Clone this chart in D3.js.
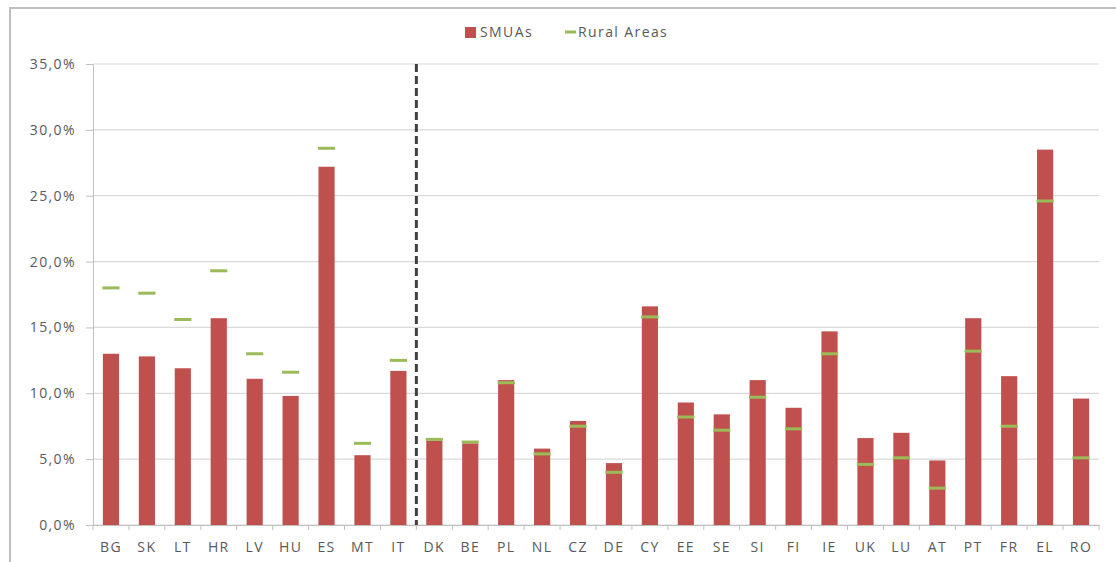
<!DOCTYPE html>
<html>
<head>
<meta charset="utf-8">
<script src="https://cdn.jsdelivr.net/npm/d3@7"></script>
<style>
  body { margin: 0; background: #fff; }
  text { font-family: "Open Sans", "Liberation Sans", sans-serif; fill: #595959; letter-spacing: 1.4px; }
</style>
</head>
<body>
<div id="chart"></div>
<script>
const countries = ["BG", "SK", "LT", "HR", "LV", "HU", "ES", "MT", "IT",
    "DK", "BE", "PL", "NL", "CZ", "DE", "CY", "EE", "SE", "SI", "FI", "IE", "UK", "LU", "AT", "PT", "FR", "EL", "RO"];
const smuas = [13.0, 12.8, 11.9, 15.7, 11.1, 9.8, 27.2, 5.3, 11.7,
    6.4, 6.2, 11.0, 5.8, 7.9, 4.7, 16.6, 9.3, 8.4, 11.0, 8.9, 14.7, 6.6, 7.0, 4.9, 15.7, 11.3, 28.5, 9.6];
const rural = [18.0, 17.6, 15.6, 19.3, 13.0, 11.6, 28.6, 6.2, 12.5,
    6.5, 6.3, 10.8, 5.4, 7.5, 4.0, 15.8, 8.2, 7.2, 9.7, 7.3, 13.0, 4.6, 5.1, 2.8, 13.2, 7.5, 24.6, 5.1];
const yTicks = [0, 5, 10, 15, 20, 25, 30, 35];
const splitAfter = "IT";

const width = 1116, height = 562;
const margin = { top: 64, right: 17, bottom: 37, left: 93 };

const svg = d3.select("#chart")
    .append("svg")
    .attr("width", width)
    .attr("height", height);

// outer frame
svg.append("path")
    .attr("d", `M10,${height} L10,8 L${width},8`)
    .attr("fill", "none")
    .attr("stroke", "#bfbfbf")
    .attr("stroke-width", 2);

const x = d3.scaleBand()
    .domain(countries)
    .range([margin.left, width - margin.right])
    .paddingInner(0.55)
    .paddingOuter(0.275);

const y = d3.scaleLinear()
    .domain([0, 35])
    .range([height - margin.bottom, margin.top]);

const fmt = v => d3.format(".1f")(v).replace(".", ",") + "%";

// gridlines
svg.append("g")
    .selectAll("line")
    .data(yTicks)
    .enter()
    .append("line")
    .attr("x1", margin.left)
    .attr("x2", width - margin.right)
    .attr("y1", d => y(d))
    .attr("y2", d => y(d))
    .attr("stroke", "#d9d9d9")
    .attr("stroke-width", 1.2);

// y axis
const yAxis = svg.append("g")
    .attr("transform", `translate(${margin.left},0)`)
    .call(d3.axisLeft(y).tickValues(yTicks).tickFormat(fmt).tickSize(7).tickPadding(10));
yAxis.selectAll("line").attr("stroke", "#bfbfbf");
yAxis.select(".domain").attr("stroke", "#bfbfbf");
yAxis.selectAll("text").style("font-size", "14px").attr("fill", "#595959");

// x axis with tick marks at band edges
const xAxis = svg.append("g")
    .attr("transform", `translate(0,${y(0)})`)
    .call(d3.axisBottom(x).tickSize(0).tickPadding(17));
xAxis.select(".domain").attr("stroke", "#bfbfbf");
xAxis.selectAll("text").style("font-size", "14px").attr("fill", "#595959");

const step = x.step();
const gap = (step - x.bandwidth()) / 2;
const edges = countries.map(c => x(c) - gap)
    .concat([x(countries[countries.length - 1]) + x.bandwidth() + gap]);
svg.append("g")
    .selectAll("line")
    .data(edges)
    .enter()
    .append("line")
    .attr("x1", d => d)
    .attr("x2", d => d)
    .attr("y1", y(0))
    .attr("y2", y(0) + 5)
    .attr("stroke", "#bfbfbf");

// bars
svg.append("g")
    .selectAll("rect")
    .data(countries)
    .enter()
    .append("rect")
    .attr("x", d => x(d))
    .attr("y", (d, i) => y(smuas[i]))
    .attr("width", x.bandwidth())
    .attr("height", (d, i) => y(0) - y(smuas[i]))
    .attr("fill", "#c0504d");

// rural markers
svg.append("g")
    .selectAll("line")
    .data(countries)
    .enter()
    .append("line")
    .attr("x1", d => x(d) - 0.5)
    .attr("x2", d => x(d) + x.bandwidth() + 0.5)
    .attr("y1", (d, i) => y(rural[i]))
    .attr("y2", (d, i) => y(rural[i]))
    .attr("stroke", "#9bbb59")
    .attr("stroke-width", 3);

// dashed separator
const sx = x(splitAfter) + x.bandwidth() + gap;
svg.append("line")
    .attr("x1", sx)
    .attr("x2", sx)
    .attr("y1", y(35))
    .attr("y2", y(0))
    .attr("stroke", "#404040")
    .attr("stroke-width", 3)
    .attr("stroke-dasharray", "8,4");

// legend
const legend = svg.append("g").attr("transform", "translate(465,32)");
legend.append("rect")
    .attr("x", 0).attr("y", -5)
    .attr("width", 11).attr("height", 11)
    .attr("fill", "#c0504d");
legend.append("text")
    .attr("x", 15).attr("y", 5)
    .style("font-size", "14px")
    .text("SMUAs");
legend.append("line")
    .attr("x1", 100).attr("x2", 111)
    .attr("y1", 0).attr("y2", 0)
    .attr("stroke", "#9bbb59")
    .attr("stroke-width", 3);
legend.append("text")
    .attr("x", 113).attr("y", 5)
    .style("font-size", "14px")
    .text("Rural Areas");
</script>
</body>
</html>
